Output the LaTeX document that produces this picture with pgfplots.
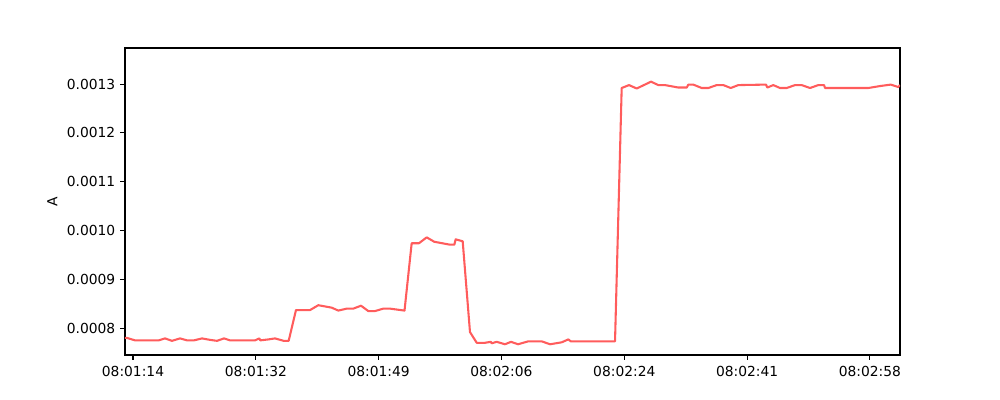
\documentclass[border=0pt]{standalone}
\usepackage{fontspec}
\setmainfont{DejaVu Sans}
\usepackage{pgfplots}
\pgfplotsset{compat=1.18}
\definecolor{linered}{RGB}{255,92,92}
\begin{document}
\begin{tikzpicture}
% figure canvas 10in x 4in, axes box like matplotlib
\path (-1.25in,-0.45in) rectangle (8.75in,3.55in);
\begin{axis}[
  at={(0,0)}, anchor=south west,
  scale only axis,
  width=7.75in, height=3.07in,
  xmin=13.2, xmax=122.58,
  ymin=0.000745, ymax=0.001374,
  xtick={14.33,31.67,49.0,66.33,83.67,101.0,118.33},
  xticklabels={08:01:14,08:01:32,08:01:49,08:02:06,08:02:24,08:02:41,08:02:58},
  ytick={0.0008,0.0009,0.0010,0.0011,0.0012,0.0013},
  yticklabels={0.0008,0.0009,0.0010,0.0011,0.0012,0.0013},
  scaled y ticks=false,
  xtick pos=bottom, ytick pos=left,
  tick align=outside,
  major tick length=3.5pt,
  every tick/.style={black, line width=0.8pt},
  axis line style={line width=0.8pt},
  tick label style={font=\fontsize{10}{12}\selectfont},
  label style={font=\fontsize{10}{12}\selectfont},
  xticklabel style={yshift=-1pt},
  ylabel={A},
  /pgf/number format/assume math mode=true,
  clip=true,
]
\addplot[linered, line width=1.5pt, line join=round] coordinates {
(13.20,0.000780) (13.48,0.000780) (14.61,0.000775) (17.96,0.000775)
(18.85,0.000779) (19.83,0.000774) (20.97,0.000779) (21.95,0.000775)
(22.94,0.000775) (24.07,0.000779) (25.20,0.000776) (26.19,0.000774)
(27.17,0.000779) (28.02,0.000775) (31.55,0.000775) (32.16,0.000779)
(32.30,0.000775) (33.48,0.000777) (34.37,0.000779) (35.60,0.000774)
(36.30,0.000774) (37.33,0.000837) (39.31,0.000837) (40.48,0.000847)
(42.37,0.000842) (43.31,0.000836) (44.49,0.000840) (45.42,0.000840)
(46.51,0.000846) (47.54,0.000835) (48.48,0.000835) (49.66,0.000840)
(50.60,0.000840) (52.65,0.000836) (53.66,0.000974) (54.69,0.000974)
(55.78,0.000986) (56.85,0.000977) (59.07,0.000971) (59.68,0.000971)
(59.87,0.000982) (60.86,0.000978) (61.89,0.000792) (62.84,0.000770)
(64.01,0.000770) (64.82,0.000772) (64.96,0.000769) (65.66,0.000772)
(66.83,0.000767) (67.68,0.000772) (68.67,0.000767) (70.12,0.000773)
(72.01,0.000773) (73.19,0.000767) (74.84,0.000771) (75.77,0.000777)
(76.11,0.000773) (82.36,0.000773) (83.30,0.001292) (84.34,0.001298)
(85.42,0.001291) (87.44,0.001305) (88.47,0.001298) (89.42,0.001298)
(91.29,0.001293) (92.48,0.001293) (92.71,0.001299) (93.41,0.001299)
(94.60,0.001292) (95.53,0.001292) (96.71,0.001298) (97.65,0.001298)
(98.69,0.001292) (99.76,0.001298) (103.67,0.001299) (103.85,0.001293)
(104.70,0.001298) (105.65,0.001292) (106.59,0.001292) (107.76,0.001298)
(108.71,0.001298) (109.88,0.001292) (111.05,0.001298) (111.86,0.001298)
(112.00,0.001292) (118.11,0.001292) (119.76,0.001296) (121.27,0.001299)
(122.34,0.001294) (122.58,0.001298)
};
\end{axis}
\end{tikzpicture}
\end{document}
